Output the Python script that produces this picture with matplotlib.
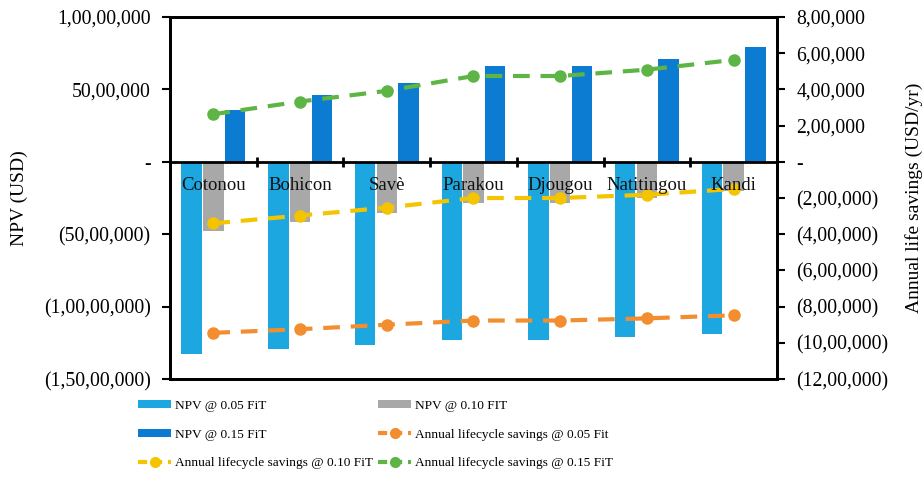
import matplotlib
matplotlib.use("Agg")
import matplotlib.pyplot as plt
import numpy as np
from matplotlib.ticker import FuncFormatter, MultipleLocator
from matplotlib.patches import Patch
from matplotlib.lines import Line2D

plt.rcParams['font.family'] = ['Liberation Serif', 'DejaVu Serif']

cities = ["Cotonou", "Bohicon", "Savè", "Parakou", "Djougou", "Natitingou", "Kandi"]

# Net present value (USD) for three feed-in tariffs
npv_005 = [-13.25e6, -12.95e6, -12.65e6, -12.3e6, -12.3e6, -12.1e6, -11.9e6]
npv_010 = [-4.8e6, -4.15e6, -3.55e6, -2.85e6, -2.85e6, -2.5e6, -2.0e6]
npv_015 = [3.6e6, 4.6e6, 5.45e6, 6.65e6, 6.65e6, 7.1e6, 7.9e6]

# Annual lifecycle savings (USD/yr)
als_005 = [-9.45e5, -9.25e5, -9.0e5, -8.77e5, -8.77e5, -8.65e5, -8.48e5]
als_010 = [-3.4e5, -2.97e5, -2.53e5, -2.0e5, -2.0e5, -1.82e5, -1.5e5]
als_015 = [2.63e5, 3.33e5, 3.92e5, 4.74e5, 4.74e5, 5.09e5, 5.63e5]

c_npv05 = "#1CA7E0"
c_npv10 = "#A8A8A8"
c_npv15 = "#0C7BD2"
c_als05 = "#F28E30"
c_als10 = "#F5C400"
c_als15 = "#5EB546"


def indian(v, pos=None):
    n = int(round(abs(v)))
    if n == 0:
        return "-"
    s = str(n)
    if len(s) > 3:
        head, tail = s[:-3], s[-3:]
        groups = []
        while len(head) > 2:
            groups.insert(0, head[-2:])
            head = head[:-2]
        if head:
            groups.insert(0, head)
        s = ",".join(groups + [tail])
    return f"({s})" if v < 0 else s


fig = plt.figure(figsize=(9.24, 5.0), dpi=100)
ax = fig.add_axes([170 / 924, 1 - 379 / 500, (777 - 170) / 924, (379 - 17) / 500])
ax2 = ax.twinx()

x = np.arange(len(cities))
w = 0.235
off = 0.25
ax.bar(x - off, npv_005, w, color=c_npv05, zorder=2)
ax.bar(x, npv_010, w, color=c_npv10, zorder=2)
ax.bar(x + off, npv_015, w, color=c_npv15, zorder=2)

ax.set_xlim(-0.5, len(cities) - 0.5)
ax.set_ylim(-1.5e7, 1.0e7)
ax.yaxis.set_major_locator(MultipleLocator(5e6))
ax.yaxis.set_major_formatter(FuncFormatter(indian))

line_kw = dict(linestyle=(0, (4, 2.6)), linewidth=3, marker="o", markersize=8)
ax2.plot(x, als_005, color=c_als05, **line_kw)
ax2.plot(x, als_010, color=c_als10, **line_kw)
ax2.plot(x, als_015, color=c_als15, **line_kw)
ax2.set_ylim(-1.2e6, 8e5)
ax2.yaxis.set_major_locator(MultipleLocator(2e5))
ax2.yaxis.set_major_formatter(FuncFormatter(indian))

# zero line with category boundary ticks
ax.axhline(0, color="black", linewidth=2, zorder=3)
for b in np.arange(0.5, len(cities) - 0.5, 1.0):
    ax.plot([b, b], [-0.35e6, 0.35e6], color="black", linewidth=2, zorder=3,
            solid_capstyle="butt")
ax.set_xticks([])

for i, name in enumerate(cities):
    ax2.annotate(name, xy=(i, 0), xycoords="data", xytext=(0, -24),
                 textcoords="offset pixels", ha="center", va="center",
                 fontsize=13.5, color="#111111", zorder=10)

for a in (ax, ax2):
    for sp in a.spines.values():
        sp.set_linewidth(2)
        sp.set_color("black")
ax.tick_params(axis="y", direction="out", length=6, width=1.5, labelsize=14.2, pad=8)
ax2.tick_params(axis="y", direction="out", length=6, width=1.5, labelsize=14.2, pad=8)

ax.set_ylabel("NPV (USD)", fontsize=14, labelpad=11)
ax2.set_ylabel("Annual life savings (USD/yr)", fontsize=14, labelpad=12)

h_npv05 = Patch(facecolor=c_npv05, edgecolor="none")
h_npv10 = Patch(facecolor=c_npv10, edgecolor="none")
h_npv15 = Patch(facecolor=c_npv15, edgecolor="none")
lh_kw = dict(linestyle=(0, (2.2, 1.4)), linewidth=3, marker="o", markersize=7)
h_als05 = Line2D([], [], color=c_als05, **lh_kw)
h_als10 = Line2D([], [], color=c_als10, **lh_kw)
h_als15 = Line2D([], [], color=c_als15, **lh_kw)

leg_kw = dict(loc="upper left", ncol=1, frameon=False, fontsize=9.6,
              handlelength=2.5, handleheight=0.55, handletextpad=0.25,
              labelspacing=1.25, borderpad=0.0, borderaxespad=0.0)
fig.legend([h_npv05, h_npv15, h_als10],
           ["NPV @ 0.05 FiT", "NPV @ 0.15 FiT", "Annual lifecycle savings @ 0.10 FiT"],
           bbox_to_anchor=(138 / 924, 1 - 400 / 500), **leg_kw)
fig.legend([h_npv10, h_als05, h_als15],
           ["NPV @ 0.10 FIT", "Annual lifecycle savings @ 0.05 Fit",
            "Annual lifecycle savings @ 0.15 FiT"],
           bbox_to_anchor=(378 / 924, 1 - 400 / 500), **leg_kw)

fig.savefig("out.png", dpi=100)
